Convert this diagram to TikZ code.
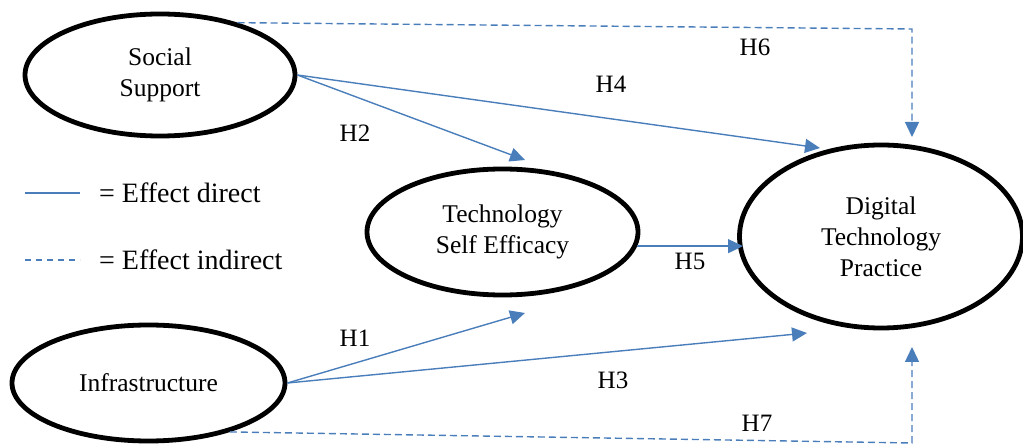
\documentclass[tikz,border=0pt]{standalone}
\usepackage{fontspec}
\setmainfont{Liberation Serif}
\usetikzlibrary{arrows.meta,shapes.geometric}
\definecolor{linkblue}{HTML}{4A7EBB}
\begin{document}
\begin{tikzpicture}[x=1pt,y=-1pt,
  construct/.style={ellipse, draw=black, line width=4.8pt, inner sep=0pt,
    align=center, font=\fontsize{25.5}{31}\selectfont},
  direct/.style={draw=linkblue, line width=1.4pt,
    -{Triangle[length=15pt,width=14pt]}, fill=none},
  indirect/.style={direct, dash pattern=on 7pt off 4pt},
  hyp/.style={font=\fontsize{25}{30}\selectfont, inner sep=0pt},
  legendtext/.style={font=\fontsize{28}{30}\selectfont, anchor=west, inner sep=0pt}]
\useasboundingbox (0,0) rectangle (1023,446);

% constructs
\node[construct, minimum width=270pt, minimum height=122pt] (ss)  at (160,75)    {Social\\Support};
\node[construct, minimum width=273pt, minimum height=116pt] (inf) at (148.5,383) {Infrastructure};
\node[construct, minimum width=271pt, minimum height=126pt] (tse) at (502.5,232) {Technology\\Self Efficacy};
\node[construct, minimum width=283pt, minimum height=183pt] (dtp) at (881,236.5) {Digital\\Technology\\Practice};

% arrow tips and bends
\coordinate (h6turn) at (912,29);
\coordinate (h6tip)  at (912,137);
\coordinate (h7turn) at (912,443);
\coordinate (h7tip)  at (912,347);
\coordinate (h4tip)  at (820,148);
\coordinate (h2tip)  at (525,160);
\coordinate (h5tip)  at (743,247);
\coordinate (h1tip)  at (525,313);
\coordinate (h3tip)  at (807,333);

% direct effects
\draw[direct] (ss.east) -- (h4tip);
\draw[direct] (ss.east) -- (h2tip);
\draw[direct] (tse.-6.5) -- (tse.-6.5 -| h5tip);
\draw[direct] (inf.east) -- (h1tip);
\draw[direct] (inf.east) -- (h3tip);

% indirect effects
\draw[indirect] (ss.34) -- (h6turn) -- (h6tip);
\draw[indirect] (inf.-31) -- (h7turn) -- (h7tip);

% hypothesis labels
\node[hyp] (lh6) at (755,47)  {H6};
\node[hyp] (lh4) at (611,84)  {H4};
\node[hyp] (lh2) at (355,133) {H2};
\node[hyp] (lh5) at (690,261) {H5};
\node[hyp] (lh1) at (355,338) {H1};
\node[hyp] (lh3) at (613,380) {H3};
\node[hyp] (lh7) at (757,423) {H7};

% legend
\coordinate (ld1) at (25,193);
\coordinate (ld2) at (80,193);
\coordinate (li1) at (25,260);
\coordinate (li2) at (80,260);
\draw[linkblue, line width=1.4pt] (ld1) -- (ld2);
\draw[linkblue, line width=1.4pt, dash pattern=on 6pt off 5pt] (li1) -- (li2);
\node[legendtext] (lgd) at (99,193) {= Effect direct};
\node[legendtext] (lgi) at (99,260) {= Effect indirect};
\end{tikzpicture}
\end{document}
